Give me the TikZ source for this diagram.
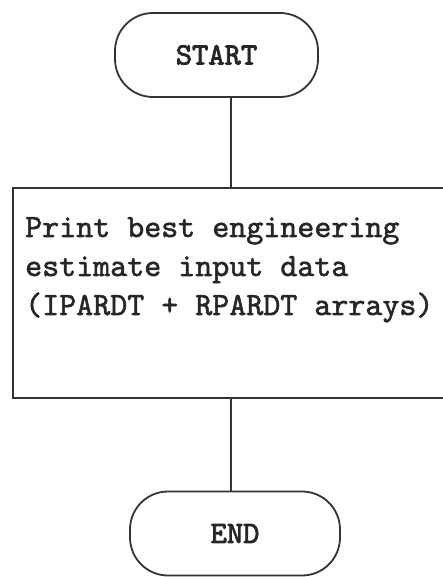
\documentclass[tikz,border=0pt]{standalone}
\usepackage{fontspec}
\newfontfamily\typefont[FakeBold=1.6]{lmmono10-regular.otf}
\newfontfamily\termfont[FakeBold=2.6]{lmmono10-regular.otf}
\usetikzlibrary{positioning}

\tikzset{
  flowline/.style={line width=1.8pt, draw=black!80},
  terminal/.style={flowline, rectangle, rounded corners=38pt, minimum height=84pt,
    font=\termfont\fontsize{31}{36}\selectfont, text=black!85},
  procbox/.style={flowline, rectangle, minimum width=436pt, minimum height=210pt},
  proctext/.style={font=\typefont\fontsize{32.4}{39}\selectfont, align=left, inner sep=0pt, text=black!85}
}

\begin{document}
\begin{tikzpicture}[x=1pt, y=1pt]
\useasboundingbox (0,0) rectangle (442,-577);

% Terminals and process box (box runs off the right edge)
\node[terminal, minimum width=203pt] (start) at (216.5,-55) {START};
\node[procbox] (print) at (231,-293) {};
\node[proctext, anchor=north west] (printtxt) at (25,-217)
  {Print best engineering\\estimate input data\\(IPARDT + RPARDT arrays)};
\node[terminal, minimum width=210pt] (end) at (235,-533.5) {END};

% Flow lines
\draw[flowline] (print.north |- start.south) -- (print.north);
\draw[flowline] (print.south) -- (print.south |- end.north);
\end{tikzpicture}
\end{document}
